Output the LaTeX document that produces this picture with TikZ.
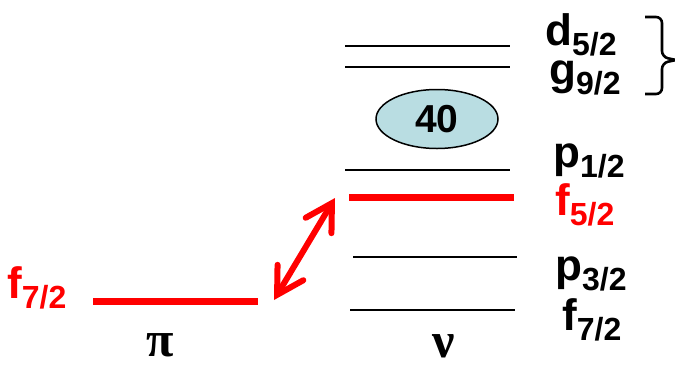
\documentclass[tikz,border=0pt]{standalone}
\usepackage{fontspec}
\setmainfont{Liberation Sans}
\newfontfamily\greekfont{Liberation Serif}
\usetikzlibrary{arrows.meta,shapes.geometric}
\definecolor{ellfill}{HTML}{B9DDE2}
\newcommand\orb[2]{\fontsize{44}{46}\selectfont\bfseries #1\raisebox{-10pt}{\fontsize{32}{34}\selectfont\bfseries #2}}
\tikzset{
  lvl/.style={line width=2pt},
  redlvl/.style={line width=7pt, red},
  lab/.style={anchor=base west, inner sep=0pt},
  greek/.style={anchor=base west, inner sep=0pt, font=\greekfont\bfseries\fontsize{50}{50}\selectfont},
}
\begin{document}
\begin{tikzpicture}[x=1pt,y=-1pt]
\useasboundingbox (0,0) rectangle (675,370);
% neutron levels
\draw[lvl] (345,46) coordinate (d1) -- (510,46) coordinate (d2);
\draw[lvl] (345,67) coordinate (g1) -- (510,67) coordinate (g2);
\draw[lvl] (345,170) coordinate (p1) -- (510,170) coordinate (p2);
\draw[redlvl] (349,197) coordinate (f5a) -- (514,197) coordinate (f5b);
\draw[lvl] (353,257) coordinate (p3a) -- (517,257) coordinate (p3b);
\draw[lvl] (350,310) coordinate (f7a) -- (515,310) coordinate (f7b);
% proton level
\draw[redlvl] (93,301) coordinate (pia) -- (258,301) coordinate (pib);
% labels
\node[lab] (ld) at (545,45) {\orb{d}{5/2}};
\node[lab] (lg) at (549,84) {\orb{g}{9/2}};
\node[lab] (lp1) at (553,167) {\orb{p}{1/2}};
\node[lab, text=red] (lf5) at (555,215) {\orb{f}{5/2}};
\node[lab] (lp3) at (555,280) {\orb{p}{3/2}};
\node[lab] (lf7) at (562,330) {\orb{f}{7/2}};
\node[lab, text=red] (lpf7) at (7,298) {\orb{f}{7/2}};
\node[greek] (pi) at (146,356) {π};
\node[greek] (nu) at (432,357) {ν};
% ellipse
\node[draw, line width=1.5pt, fill=ellfill, ellipse, minimum width=122pt, minimum height=59pt, inner sep=0pt] (e40) at (437,119) {\fontsize{39}{40}\selectfont\bfseries 40};
% brace
\draw[line width=2.6pt, rounded corners=6pt] (645,17) -- (662,17) -- (662,57) -- (676,60);
\draw[line width=2.6pt, rounded corners=6pt] (676,60) -- (662,63) -- (662,94) -- (645,94);
% arrow
\coordinate (at) at (335,198);
\coordinate (ab) at (274,300);
\draw[red, line width=6pt, line cap=round, {Straight Barb[length=26pt,width=30pt,line cap=round]}-{Straight Barb[length=26pt,width=30pt,line cap=round]}] (ab) -- (at);
\end{tikzpicture}
\end{document}
